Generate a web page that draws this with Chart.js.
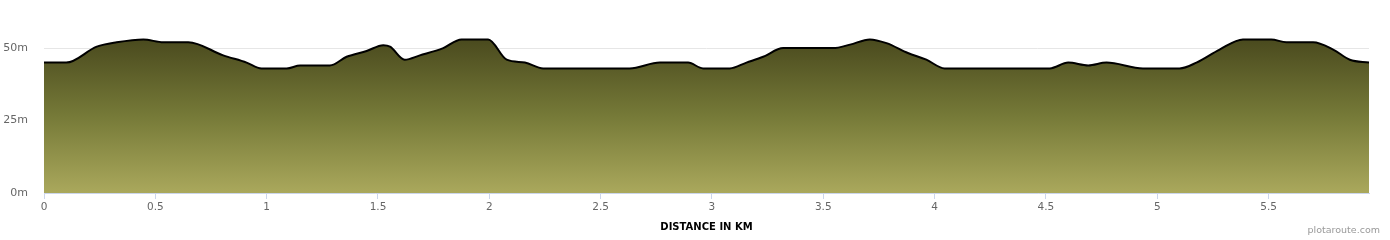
<!DOCTYPE html>
<html>
<head>
<meta charset="utf-8">
<script src="https://cdn.jsdelivr.net/npm/chart.js@4.4.1/dist/chart.umd.min.js"></script>
<style>
    html, body { margin: 0; padding: 0; background: #fff; }
    .wrap { position: relative; width: 1390px; height: 240px; }
    .credit {
        position: absolute; right: 10px; top: 224px;
        font-family: "DejaVu Sans", sans-serif; font-size: 9.5px; color: #999;
    }
</style>
</head>
<body>
<div class="wrap">
    <canvas id="profileChart" width="1390" height="240"></canvas>
    <div class="credit">plotaroute.com</div>
</div>
<script>
const distanceKm = [0, 0.10, 0.237, 0.326, 0.446, 0.536, 0.648, 0.805, 0.91, 0.977, 1.09, 1.15, 1.284, 1.359, 1.449, 1.524, 1.554,
    1.62, 1.688, 1.793, 1.875, 1.995, 2.078, 2.16, 2.242, 2.63, 2.766, 2.893, 2.96, 3.08, 3.155, 3.23, 3.32, 3.544, 3.62,
    3.709, 3.784, 3.88, 3.963, 4.045, 4.517, 4.6, 4.69, 4.772, 4.936, 5.1, 5.176, 5.28, 5.385, 5.512, 5.58, 5.7, 5.79,
    5.865, 5.951];
const elevationM = [45, 45, 50.5, 52, 53, 52, 52, 47.5, 45, 43, 43, 44, 44, 47, 49, 51, 50.5,
    46, 47.5, 50, 53, 53, 46, 45, 43, 43, 45, 45, 43, 43, 45, 47, 50, 50, 51.2,
    53, 51.7, 48.3, 46, 43, 43, 45, 44, 45, 43, 43, 45, 49.5, 53, 53, 52, 52, 49.5,
    46, 45];
const xTicks = [0, 0.5, 1, 1.5, 2, 2.5, 3, 3.5, 4, 4.5, 5, 5.5];
const yTicks = [0, 25, 50];

const points = distanceKm.map((d, i) => ({x: d, y: elevationM[i]}));

function fillGradient(context) {
    const chart = context.chart;
    const area = chart.chartArea;
    if (!area) {
        return "#777a3a";
    }
    const top = chart.scales.y.getPixelForValue(53);
    const g = chart.ctx.createLinearGradient(0, top, 0, area.bottom);
    g.addColorStop(0, "#4a4a1e");
    g.addColorStop(0.5, "#767a38");
    g.addColorStop(1, "#aaa85c");
    return g;
}

const tickFont = {family: "'DejaVu Sans', sans-serif", size: 11};

new Chart("profileChart", {
    type: "line",
    data: {
        datasets: [{
            data: points,
            borderColor: "#000",
            borderWidth: 2,
            pointRadius: 0,
            fill: "origin",
            backgroundColor: fillGradient,
            cubicInterpolationMode: "monotone"
        }]
    },
    options: {
        responsive: false,
        animation: false,
        layout: {padding: {top: 0, right: 21, bottom: 0, left: 0}},
        plugins: {legend: {display: false}, tooltip: {enabled: false}},
        scales: {
            x: {
                type: "linear",
                min: 0,
                max: 5.951,
                afterBuildTicks: (axis) => { axis.ticks = xTicks.map(v => ({value: v})); },
                afterFit: (axis) => { axis.height = 47; },
                ticks: {
                    color: "#666",
                    font: {family: "'DejaVu Sans', sans-serif", size: 10.5},
                    padding: 2,
                    maxRotation: 0,
                    callback: (v) => String(v)
                },
                grid: {drawOnChartArea: false, color: "#ccd6eb", tickLength: 6},
                border: {color: "#ccd6eb"},
                title: {
                    display: true,
                    text: "DISTANCE IN KM",
                    color: "#000",
                    font: {family: "'DejaVu Sans', sans-serif", size: 10, weight: "bold"},
                    padding: {top: 4, bottom: 7}
                }
            },
            y: {
                min: 0,
                max: 58.8,
                afterBuildTicks: (axis) => { axis.ticks = yTicks.map(v => ({value: v})); },
                afterFit: (axis) => { axis.width = 44; },
                ticks: {
                    color: "#666",
                    font: tickFont,
                    padding: 16,
                    callback: (v) => v + "m"
                },
                grid: {color: "#e6e6e6", drawTicks: false},
                border: {display: false}
            }
        }
    }
});
</script>
</body>
</html>
